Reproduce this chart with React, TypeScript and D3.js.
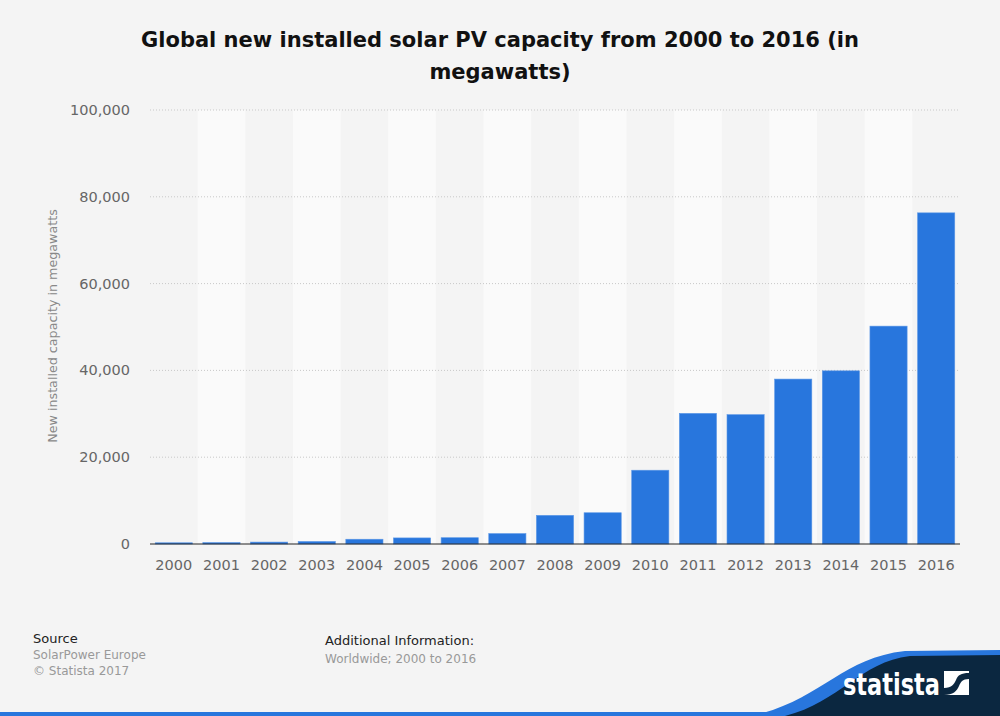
import React, { useEffect, useRef } from "react";
import * as d3 from "d3";

const years = ["2000","2001","2002","2003","2004","2005","2006","2007","2008","2009","2010","2011","2012","2013","2014","2015","2016"];
const capacity = [280, 330, 440, 580, 1100, 1400, 1450, 2400, 6600, 7200, 17000, 30100, 29800, 38000, 39900, 50200, 76300];
const yTicks = [0, 20000, 40000, 60000, 80000, 100000];

const W = 1000, H = 716;
const M = { left: 150, right: 960, top: 110, bottom: 544 };

export default function App() {
  const ref = useRef<SVGSVGElement>(null);
  useEffect(() => {
    document.body.style.margin = "0";
    const svg = d3.select(ref.current);
    svg.selectAll("*").remove();
    const font = "'DejaVu Sans', sans-serif";
    svg.append("rect").attr("width", W).attr("height", H).attr("fill", "#f4f4f4");

    const x = d3.scaleBand().domain(years).range([M.left, M.right]).paddingInner(0.22).paddingOuter(0.11);
    const xb = d3.scaleBand().domain(years).range([M.left, M.right]);
    const y = d3.scaleLinear().domain([0, 100000]).range([M.bottom, M.top]);

    // alternating bands
    svg.append("g").selectAll("rect").data(years.filter((_, i) => i % 2 === 1)).join("rect")
      .attr("x", d => xb(d)!).attr("width", xb.bandwidth())
      .attr("y", M.top).attr("height", M.bottom - M.top).attr("fill", "#fafafa");

    // grid
    svg.append("g").selectAll("line").data(yTicks.filter(t => t > 0)).join("line")
      .attr("x1", M.left).attr("x2", M.right).attr("y1", d => y(d)).attr("y2", d => y(d))
      .attr("stroke", "#c8c8c8").attr("stroke-width", 1).attr("stroke-dasharray", "1,2");

    // y tick labels
    svg.append("g").selectAll("text").data(yTicks).join("text")
      .attr("x", 130).attr("y", d => y(d) + 5).attr("text-anchor", "end")
      .attr("font-family", font).attr("font-size", 14.5).attr("fill", "#666")
      .text(d => d3.format(",")(d));

    // bars
    svg.append("g").selectAll("rect").data(capacity).join("rect")
      .attr("x", (_, i) => x(years[i])!).attr("width", x.bandwidth())
      .attr("y", d => y(d)).attr("height", d => M.bottom - y(d))
      .attr("fill", "#2876dd").attr("stroke", "#5b97e6").attr("stroke-width", 0.6);

    // baseline
    svg.append("line").attr("x1", M.left).attr("x2", M.right).attr("y1", M.bottom).attr("y2", M.bottom)
      .attr("stroke", "#222").attr("stroke-width", 1.2);

    // x labels
    svg.append("g").selectAll("text").data(years).join("text")
      .attr("x", d => xb(d)! + xb.bandwidth() / 2).attr("y", 570).attr("text-anchor", "middle")
      .attr("font-family", font).attr("font-size", 14.5).attr("fill", "#666").text(d => d);

    // y axis title
    svg.append("text").attr("transform", `translate(57,326) rotate(-90)`).attr("text-anchor", "middle")
      .attr("font-family", font).attr("font-size", 12.7).attr("fill", "#888")
      .text("New installed capacity in megawatts");

    // title
    const t = svg.append("text").attr("text-anchor", "middle").attr("font-family", font)
      .attr("font-size", 21).attr("font-weight", "bold").attr("fill", "#111");
    t.append("tspan").attr("x", 500).attr("y", 47).text("Global new installed solar PV capacity from 2000 to 2016 (in");
    t.append("tspan").attr("x", 500).attr("y", 79).text("megawatts)");

    // footer
    const ft = (tx: string, xx: number, yy: number, size: number, col: string) =>
      svg.append("text").attr("x", xx).attr("y", yy).attr("font-family", font).attr("font-size", size).attr("fill", col).text(tx);
    ft("Source", 33, 643, 13, "#222");
    ft("SolarPower Europe", 33, 659, 12, "#999");
    ft("© Statista 2017", 33, 675, 12, "#999");
    ft("Additional Information:", 325, 645, 13, "#222");
    ft("Worldwide; 2000 to 2016", 325, 663, 12, "#999");

    // bottom bar and wave
    svg.append("rect").attr("x", 0).attr("y", 712).attr("width", W).attr("height", 4).attr("fill", "#2876dd");
    svg.append("path")
      .attr("d", "M750,716 C820,702 840,658 905,651 L1000,650 L1000,716 Z")
      .attr("fill", "#2876dd");
    svg.append("path")
      .attr("d", "M785,716 C840,702 860,662 910,656 L1000,655 L1000,716 Z")
      .attr("fill", "#0b2740");
    svg.append("text").attr("x", 843).attr("y", 695).attr("font-family", "'DejaVu Sans', sans-serif")
      .attr("font-size", 30).attr("font-weight", "bold").attr("fill", "#fff")
      .attr("textLength", 97).attr("lengthAdjust", "spacingAndGlyphs").text("statista");
    const lg = svg.append("g").attr("transform", "translate(944,671)");
    lg.append("rect").attr("width", 25).attr("height", 24).attr("fill", "#fff");
    lg.append("path").attr("d", "M0,24 L0,17 C8,17 10,13 12,9 C14,4 17,2 25,2 L25,8 C18,8 17,11 15,15 C13,20 9,24 0,24 Z")
      .attr("fill", "#0b2740");
  }, []);
  return <svg ref={ref} width={W} height={H} style={{ display: "block" }} />;
}
